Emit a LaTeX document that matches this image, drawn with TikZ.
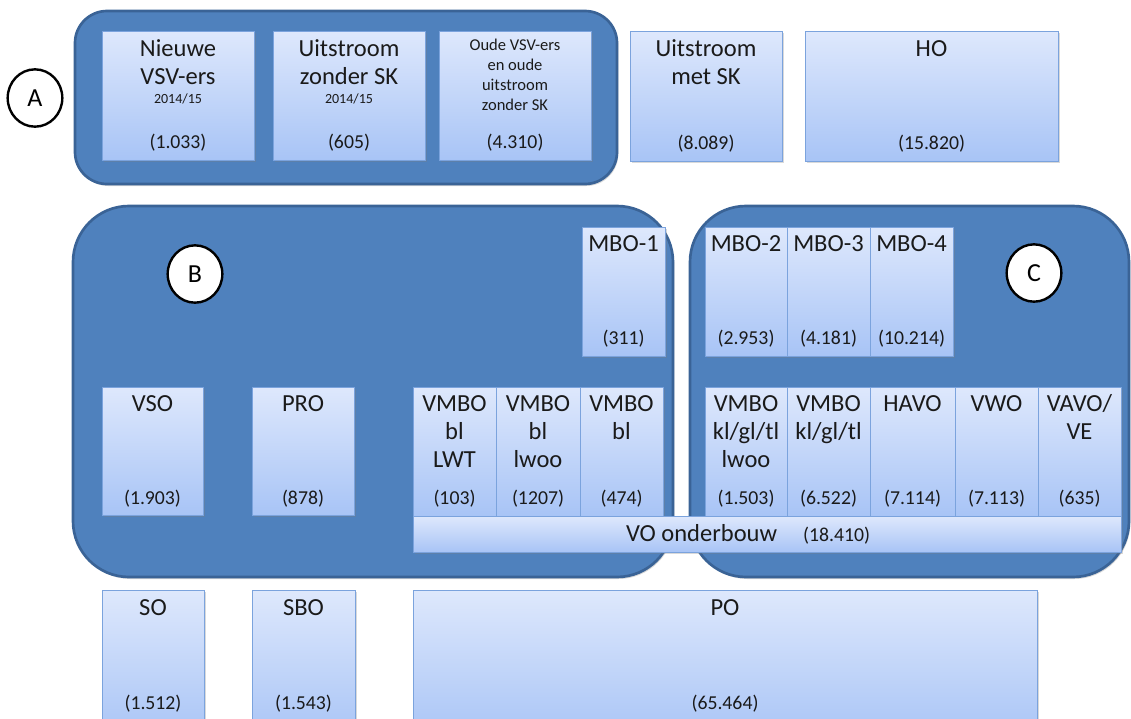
\documentclass[tikz,border=0pt]{standalone}
\usepackage{fontspec}
\setmainfont{Carlito}
\usetikzlibrary{fit,calc,shadows,shapes.geometric}
\definecolor{grpfill}{HTML}{4F81BD}
\definecolor{grpline}{HTML}{3A6396}
\definecolor{boxtop}{HTML}{DEE8FC}
\definecolor{boxbot}{HTML}{A8C4F6}
\definecolor{boxline}{HTML}{7BA3DD}
\definecolor{txt}{HTML}{1A1A1A}
\tikzset{
  grp/.style={draw=grpline, line width=2pt, fill=grpfill, inner sep=0pt, rounded corners=#1,
    drop shadow={shadow xshift=1pt, shadow yshift=-1.5pt, opacity=0.3}},
  box/.style={draw=boxline, line width=0.6pt, top color=boxtop, bottom color=boxbot, inner sep=0pt,
    drop shadow={shadow xshift=1.2pt, shadow yshift=-1.2pt, opacity=0.3}},
  ttl/.style={anchor=base, align=center, inner sep=0pt, font=\fontsize{18.4}{21}\selectfont, text=txt},
  num/.style={anchor=base, inner sep=0pt, font=\fontsize{14.8}{17}\selectfont, text=txt},
  tiny/.style={anchor=base, inner sep=0pt, font=\fontsize{10.5}{12}\selectfont, text=txt},
  sml/.style={anchor=base, align=center, inner sep=0pt, font=\fontsize{12.4}{15}\selectfont, text=txt},
  badge/.style={ellipse, draw=black, line width=1.8pt, fill=white, minimum width=41pt, minimum height=43pt,
    inner sep=0pt, font=\fontsize{19.5}{22}\selectfont, text=black},
}
\begin{document}
\begin{tikzpicture}[x=0.75pt, y=-0.75pt]
\useasboundingbox (0,0) rectangle (1131,718);
\clip (0,0) rectangle (1131,718);
% groups
\node[grp=24pt, fit={(75,11) (617,184)}] (gA) {};
\node[grp=42pt, fit={(73,206) (673,577)}] (gB) {};
\node[grp=42pt, fit={(690,206) (1129,577)}] (gC) {};
% badges
\node[badge] (cA) at (35,98) {A};
\node[badge] (cB) at (195,274) {B};
\node[badge] (cC) at (1034,273) {C};
% row A (anchor = baseline of the last line)
\node[box, fit={(102,31) (254,160)}] (n1) {};
\node[box, fit={(273,31) (425,160)}] (n2) {};
\node[box, fit={(439,31) (591,160)}] (n3) {};
\node[box, fit={(630,31) (782,161)}] (n4) {};
\node[box, fit={(805,31) (1058,161)}] (n5) {};
\node[ttl] (n1t) at ($(n1.north)+(0,54)$) {Nieuwe\\VSV-ers};
\node[tiny] (n1s) at ($(n1.north)+(0,73)$) {2014/15};
\node[num] (n1n) at ($(n1.south)+(0,-12)$) {(1.033)};
\node[ttl] (n2t) at ($(n2.north)+(0,54)$) {Uitstroom\\zonder SK};
\node[tiny] (n2s) at ($(n2.north)+(0,73)$) {2014/15};
\node[num] (n2n) at ($(n2.south)+(0,-12)$) {(605)};
\node[sml] (n3t) at ($(n3.north)+(0,80)$) {Oude VSV-ers\\en oude\\uitstroom\\zonder SK};
\node[num] (n3n) at ($(n3.south)+(0,-12)$) {(4.310)};
\node[ttl] (n4t) at ($(n4.north)+(0,54)$) {Uitstroom\\met SK};
\node[num] (n4n) at ($(n4.south)+(0,-12)$) {(8.089)};
\node[ttl] (n5t) at ($(n5.north)+(0,26)$) {HO};
\node[num] (n5n) at ($(n5.south)+(0,-12)$) {(15.820)};
% MBO row
\node[box, fit={(582,227) (665,356)}] (m1) {};
\node[box, fit={(705,227) (787,356)}] (m2) {};
\node[box, fit={(787,227) (870,356)}] (m3) {};
\node[box, fit={(870,227) (953,356)}] (m4) {};
\node[ttl] (m1t) at ($(m1.north)+(0,25)$) {MBO-1};
\node[num] (m1n) at ($(m1.south)+(0,-12)$) {(311)};
\node[ttl] (m2t) at ($(m2.north)+(0,25)$) {MBO-2};
\node[num] (m2n) at ($(m2.south)+(0,-12)$) {(2.953)};
\node[ttl] (m3t) at ($(m3.north)+(0,25)$) {MBO-3};
\node[num] (m3n) at ($(m3.south)+(0,-12)$) {(4.181)};
\node[ttl] (m4t) at ($(m4.north)+(0,25)$) {MBO-4};
\node[num] (m4n) at ($(m4.south)+(0,-12)$) {(10.214)};
% middle row
\node[box, fit={(102,387) (203,515)}] (vso) {};
\node[box, fit={(252,387) (354,515)}] (pro) {};
\node[box, fit={(413,387) (496,516)}] (v1) {};
\node[box, fit={(496,387) (580,516)}] (v2) {};
\node[box, fit={(580,387) (663,516)}] (v3) {};
\node[box, fit={(705,387) (787,516)}] (v4) {};
\node[box, fit={(787,387) (870,516)}] (v5) {};
\node[box, fit={(870,387) (955,516)}] (havo) {};
\node[box, fit={(955,387) (1038,516)}] (vwo) {};
\node[box, fit={(1038,387) (1121,516)}] (vavo) {};
\node[ttl] (vsot) at ($(vso.north)+(0,25)$) {VSO};
\node[num] (vson) at ($(vso.south)+(0,-11)$) {(1.903)};
\node[ttl] (prot) at ($(pro.north)+(0,25)$) {PRO};
\node[num] (pron) at ($(pro.south)+(0,-11)$) {(878)};
\node[ttl] (v1t) at ($(v1.north)+(0,81)$) {VMBO\\bl\\LWT};
\node[num] (v1n) at ($(v1.south)+(0,-12)$) {(103)};
\node[ttl] (v2t) at ($(v2.north)+(0,81)$) {VMBO\\bl\\lwoo};
\node[num] (v2n) at ($(v2.south)+(0,-12)$) {(1207)};
\node[ttl] (v3t) at ($(v3.north)+(0,53)$) {VMBO\\bl};
\node[num] (v3n) at ($(v3.south)+(0,-12)$) {(474)};
\node[ttl] (v4t) at ($(v4.north)+(0,81)$) {VMBO\\kl/gl/tl\\lwoo};
\node[num] (v4n) at ($(v4.south)+(0,-12)$) {(1.503)};
\node[ttl] (v5t) at ($(v5.north)+(0,53)$) {VMBO\\kl/gl/tl};
\node[num] (v5n) at ($(v5.south)+(0,-12)$) {(6.522)};
\node[ttl] (havot) at ($(havo.north)+(0,25)$) {HAVO};
\node[num] (havon) at ($(havo.south)+(0,-12)$) {(7.114)};
\node[ttl] (vwot) at ($(vwo.north)+(0,25)$) {VWO};
\node[num] (vwon) at ($(vwo.south)+(0,-12)$) {(7.113)};
\node[ttl] (vavot) at ($(vavo.north)+(0,53)$) {VAVO/\\VE};
\node[num] (vavon) at ($(vavo.south)+(0,-12)$) {(635)};
% VO onderbouw
\node[box, fit={(413,516) (1121,552)}] (vo) {};
\node[ttl] (vot) at ($(vo.south west)+(289,-11)$) {VO onderbouw};
\node[num] (von) at ($(vo.south west)+(424,-11)$) {(18.410)};
% bottom row
\node[box, fit={(102,590) (204,740)}] (so) {};
\node[box, fit={(252,590) (355,740)}] (sbo) {};
\node[box, fit={(413,590) (1037,740)}] (po) {};
\node[ttl] (sot) at ($(so.north)+(0,26)$) {SO};
\node[num] (son) at ($(so.north)+(0,120)$) {(1.512)};
\node[ttl] (sbot) at ($(sbo.north)+(0,26)$) {SBO};
\node[num] (sbon) at ($(sbo.north)+(0,120)$) {(1.543)};
\node[ttl] (pot) at ($(po.north)+(0,26)$) {PO};
\node[num] (pon) at ($(po.north)+(0,120)$) {(65.464)};
\end{tikzpicture}
\end{document}
